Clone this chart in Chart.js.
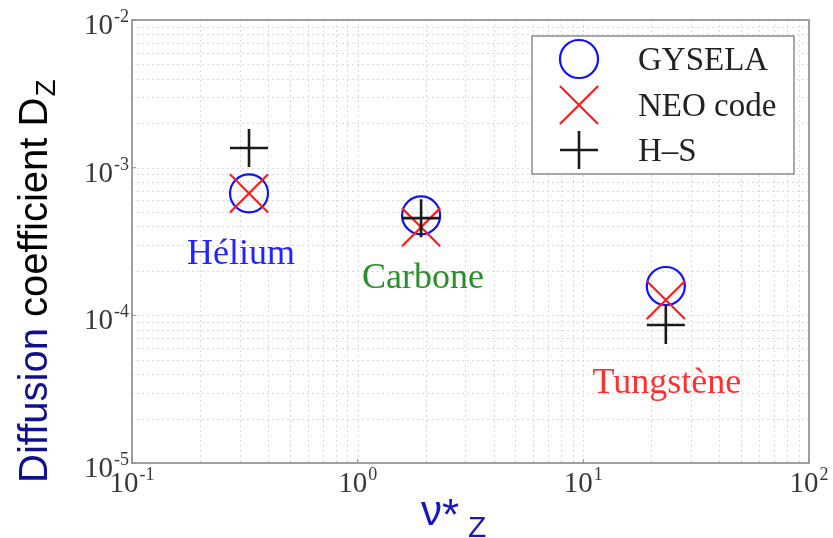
<!DOCTYPE html>
<html>
<head>
<meta charset="utf-8">
<script src="https://cdn.jsdelivr.net/npm/chart.js@4/dist/chart.umd.min.js"></script>
<style>
  html, body { margin: 0; padding: 0; background: #fff; }
  #wrap { width: 833px; height: 538px; }
</style>
</head>
<body>
<div id="wrap"><canvas id="diffChart" width="833" height="538"></canvas></div>
<script>
// species and collisionality nu*_Z
const species = ['Hélium', 'Carbone', 'Tungstène'];
const speciesColors = ['#2424ff', '#2a8f2a', '#ff3030'];
const nuStar = [0.33, 1.91, 23.2];

// diffusion coefficient D_Z per model
const gysela = [6.7e-4, 4.75e-4, 1.58e-4];
const neoCode = [6.7e-4, 3.95e-4, 1.27e-4];
const hinton = [1.36e-3, 4.55e-4, 8.6e-5];

// axis decades (exponents of 10)
const xExps = [-1, 0, 1, 2];
const yExps = [-5, -4, -3, -2];

const seriesNames = ['GYSELA', 'NEO code', 'H\u2013S'];

function points(vals) {
  return nuStar.map(function (x, i) { return { x: x, y: vals[i] }; });
}

function decadeTicks(exps) {
  var t = [];
  for (var i = 0; i < exps.length - 1; i++) {
    for (var m = 1; m < 10; m++) t.push(m * Math.pow(10, exps[i]));
  }
  t.push(Math.pow(10, exps[exps.length - 1]));
  return t;
}

// draws "10" with a raised exponent
function drawPow(ctx, exp, x, baseY, align) {
  ctx.font = '29px "Liberation Serif"';
  var wBase = ctx.measureText('10').width;
  ctx.font = '18px "Liberation Serif"';
  var expText = String(exp);
  var wExp = ctx.measureText(expText).width;
  var w = wBase + wExp + 1;
  var start = align === 'right' ? x - w : x - w / 2;
  ctx.textAlign = 'left';
  ctx.textBaseline = 'alphabetic';
  ctx.fillStyle = '#383838';
  ctx.font = '29px "Liberation Serif"';
  ctx.fillText('10', start, baseY);
  ctx.font = '18px "Liberation Serif"';
  ctx.fillText(expText, start + wBase + 1, baseY - 12);
}

function drawMarker(ctx, style, x, y, r, color, lw) {
  ctx.save();
  ctx.strokeStyle = color;
  ctx.lineWidth = lw;
  ctx.beginPath();
  if (style === 'circle') {
    ctx.arc(x, y, r, 0, Math.PI * 2);
  } else if (style === 'crossRot') {
    var d = r * Math.SQRT1_2;
    ctx.moveTo(x - d, y - d); ctx.lineTo(x + d, y + d);
    ctx.moveTo(x - d, y + d); ctx.lineTo(x + d, y - d);
  } else {
    ctx.moveTo(x - r, y); ctx.lineTo(x + r, y);
    ctx.moveTo(x, y - r); ctx.lineTo(x, y + r);
  }
  ctx.stroke();
  ctx.restore();
}

const gridPlugin = {
  id: 'logGrid',
  beforeDatasetsDraw: function (chart) {
    var ctx = chart.ctx, a = chart.chartArea;
    var xs = chart.scales.x, ys = chart.scales.y;
    ctx.save();
    ctx.strokeStyle = '#dadada';
    ctx.lineWidth = 1;
    ctx.setLineDash([2, 3]);
    decadeTicks(xExps).forEach(function (v) {
      var px = Math.round(xs.getPixelForValue(v)) + 0.5;
      ctx.beginPath(); ctx.moveTo(px, a.top); ctx.lineTo(px, a.bottom); ctx.stroke();
    });
    decadeTicks(yExps).forEach(function (v) {
      var py = Math.round(ys.getPixelForValue(v)) + 0.5;
      ctx.beginPath(); ctx.moveTo(a.left, py); ctx.lineTo(a.right, py); ctx.stroke();
    });
    ctx.setLineDash([]);
    // frame
    ctx.strokeStyle = '#a0a0a0';
    ctx.lineWidth = 2;
    ctx.strokeRect(a.left, a.top, a.right - a.left, a.bottom - a.top);
    // small major ticks
    ctx.lineWidth = 1;
    ctx.strokeStyle = '#909090';
    xExps.forEach(function (e) {
      var px = xs.getPixelForValue(Math.pow(10, e));
      ctx.beginPath(); ctx.moveTo(px, a.bottom); ctx.lineTo(px, a.bottom - 4); ctx.stroke();
    });
    yExps.forEach(function (e) {
      var py = ys.getPixelForValue(Math.pow(10, e));
      ctx.beginPath(); ctx.moveTo(a.left, py); ctx.lineTo(a.left + 4, py); ctx.stroke();
    });
    ctx.restore();
  },
  afterDraw: function (chart) {
    var ctx = chart.ctx, a = chart.chartArea;
    var xs = chart.scales.x, ys = chart.scales.y;
    ctx.save();

    // tick labels
    xExps.forEach(function (e) {
      drawPow(ctx, e, xs.getPixelForValue(Math.pow(10, e)), a.bottom + 29, 'center');
    });
    yExps.forEach(function (e) {
      drawPow(ctx, e, a.left - 3, ys.getPixelForValue(Math.pow(10, e)) + 14, 'right');
    });

    // species labels under the markers
    var offs = [{ dx: -8, dy: 61 }, { dx: 2, dy: 51 }, { dx: 1, dy: 59 }];
    ctx.font = '36px "Liberation Serif"';
    ctx.textAlign = 'center';
    ctx.textBaseline = 'middle';
    species.forEach(function (name, i) {
      var low = Math.min(gysela[i], neoCode[i], hinton[i]);
      var px = xs.getPixelForValue(nuStar[i]) + offs[i].dx;
      var py = ys.getPixelForValue(low) + offs[i].dy;
      ctx.fillStyle = speciesColors[i];
      ctx.fillText(name, px, py);
    });

    // legend box
    var bx = 532, by = 36, bw = 262, bh = 138;
    ctx.fillStyle = '#ffffff';
    ctx.fillRect(bx, by, bw, bh);
    ctx.strokeStyle = '#8c8c8c';
    ctx.lineWidth = 1.5;
    ctx.strokeRect(bx, by, bw, bh);
    var rows = [59, 105, 150];
    chart.data.datasets.forEach(function (ds, i) {
      drawMarker(ctx, ds.pointStyle, 579, rows[i], ds.legendR, ds.borderColor, ds.borderWidth);
      ctx.fillStyle = '#222';
      ctx.font = '33px "Liberation Serif"';
      ctx.textAlign = 'left';
      ctx.textBaseline = 'middle';
      ctx.fillText(ds.label, 638, rows[i] + 2);
    });

    // y axis title
    ctx.save();
    ctx.translate(47, 483);
    ctx.rotate(-Math.PI / 2);
    ctx.textAlign = 'left';
    ctx.textBaseline = 'alphabetic';
    ctx.font = '40px "Liberation Sans"';
    ctx.fillStyle = '#10108f';
    ctx.fillText('Diffusion', 0, 0);
    var w1 = ctx.measureText('Diffusion ').width;
    ctx.fillStyle = '#000000';
    ctx.fillText('coefficient D', w1, 0);
    var w2 = ctx.measureText('coefficient D').width;
    ctx.font = '28px "Liberation Sans"';
    ctx.fillText('Z', w1 + w2 + 1, 8);
    ctx.restore();

    // x axis title
    ctx.textAlign = 'left';
    ctx.textBaseline = 'alphabetic';
    ctx.fillStyle = '#1717bd';
    ctx.font = '42px "Liberation Sans"';
    ctx.fillText('\u03bd', 421, 525);
    var wn = ctx.measureText('\u03bd').width;
    ctx.font = '44px "Liberation Sans"';
    ctx.fillText('*', 421 + wn, 530);
    ctx.font = '30px "Liberation Sans"';
    ctx.fillText('Z', 468, 537);

    ctx.restore();
  }
};

new Chart(document.getElementById('diffChart').getContext('2d'), {
  type: 'scatter',
  data: {
    datasets: [{
      label: seriesNames[0],
      data: points(gysela),
      pointStyle: 'circle',
      pointRadius: 19,
      legendR: 19,
      borderColor: '#1010ff',
      backgroundColor: 'rgba(0,0,0,0)',
      borderWidth: 2.2,
      order: 3
    }, {
      label: seriesNames[1],
      data: points(neoCode),
      pointStyle: 'crossRot',
      pointRadius: 27,
      legendR: 27,
      borderColor: '#ff1c1c',
      backgroundColor: 'rgba(0,0,0,0)',
      borderWidth: 2.2,
      order: 2
    }, {
      label: seriesNames[2],
      data: points(hinton),
      pointStyle: 'cross',
      pointRadius: 19,
      legendR: 19,
      borderColor: '#1a1a1a',
      backgroundColor: 'rgba(0,0,0,0)',
      borderWidth: 2.6,
      order: 1
    }]
  },
  options: {
    responsive: false,
    animation: false,
    events: [],
    layout: { autoPadding: false, padding: { left: 132, right: 24, top: 20, bottom: 75 } },
    plugins: { legend: { display: false }, tooltip: { enabled: false } },
    scales: {
      x: {
        type: 'logarithmic',
        min: Math.pow(10, xExps[0]),
        max: Math.pow(10, xExps[xExps.length - 1]),
        ticks: { display: false },
        grid: { display: false },
        border: { display: false },
        afterFit: function (s) { s.height = 0; }
      },
      y: {
        type: 'logarithmic',
        min: Math.pow(10, yExps[0]),
        max: Math.pow(10, yExps[yExps.length - 1]),
        ticks: { display: false },
        grid: { display: false },
        border: { display: false },
        afterFit: function (s) { s.width = 0; }
      }
    }
  },
  plugins: [gridPlugin]
});
</script>
</body>
</html>
